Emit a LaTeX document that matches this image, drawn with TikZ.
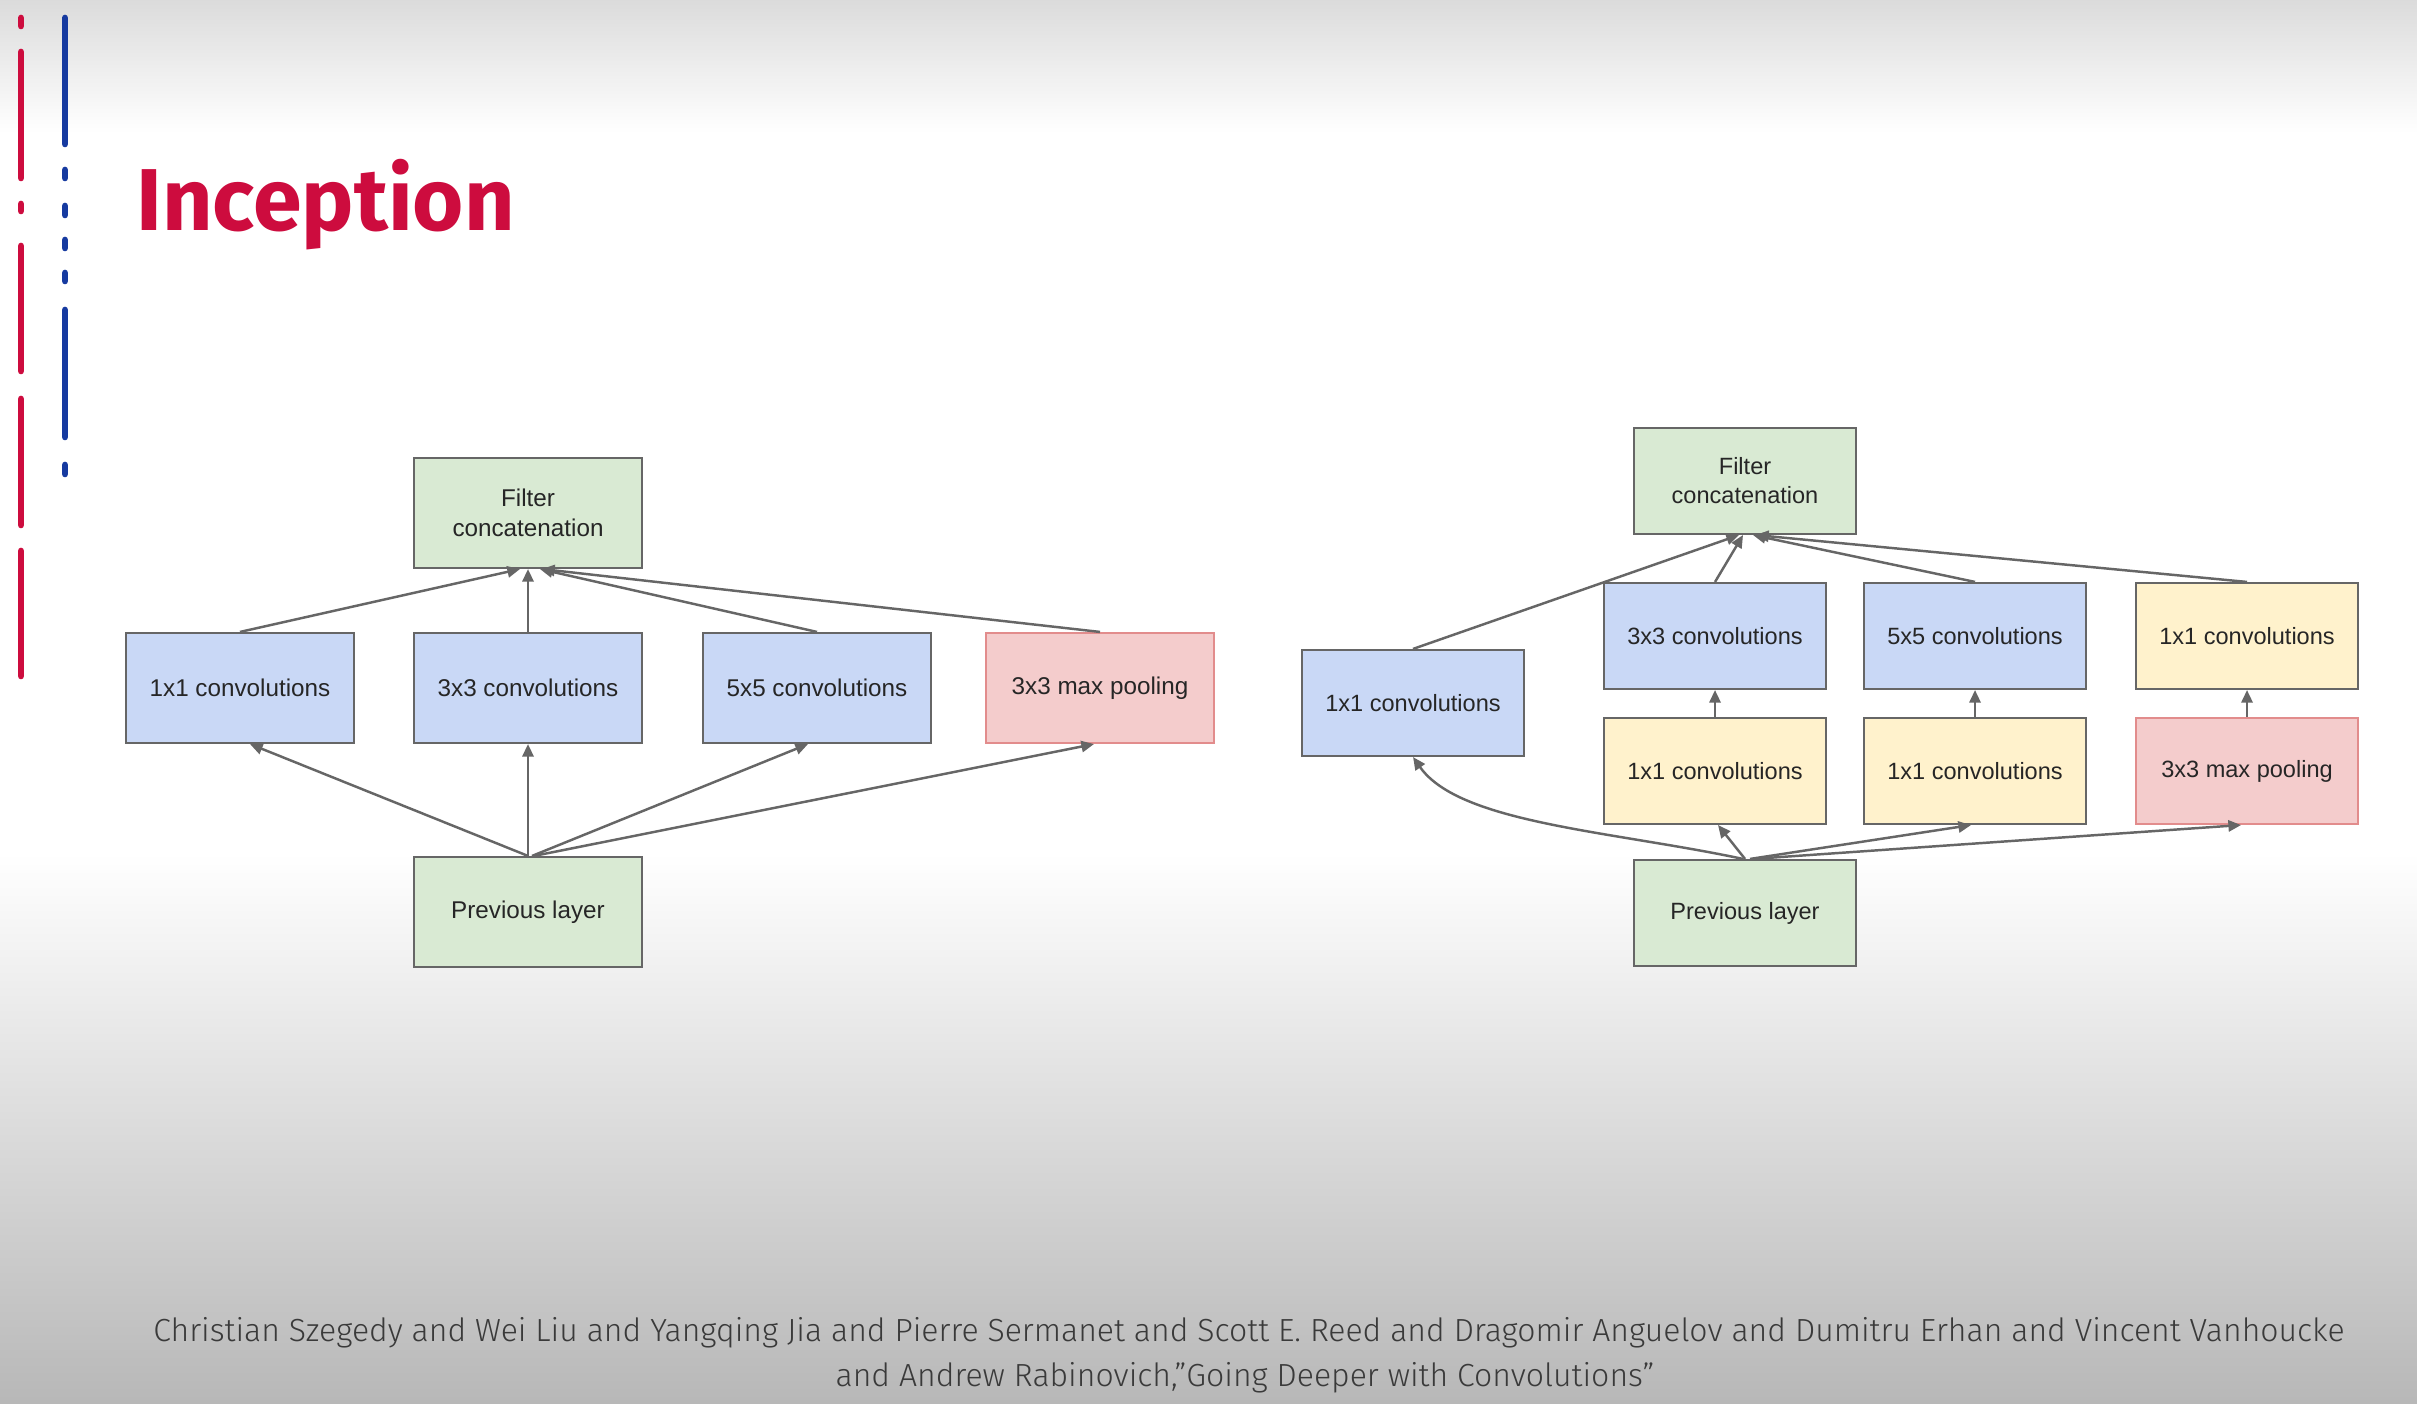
\documentclass[tikz,border=0pt]{standalone}
\usepackage{fontspec}
\setmainfont{Liberation Sans}
\newfontfamily\titlefont{Fira Sans}
\newfontfamily\citefont{Fira Sans Light}
\usepackage{tikz}
\usetikzlibrary{arrows.meta,calc}
\definecolor{slideRed}{RGB}{205,12,62}
\definecolor{slideBlue}{RGB}{22,58,160}
\definecolor{convcolor}{RGB}{201,216,246}
\definecolor{concatcolor}{RGB}{217,234,211}
\definecolor{reducecolor}{RGB}{255,242,204}
\definecolor{poolcolor}{RGB}{244,204,204}
\definecolor{poolborder}{RGB}{226,140,140}
\definecolor{edgecolor}{RGB}{102,102,102}
\definecolor{citecolor}{RGB}{58,58,58}

\begin{document}
\begin{tikzpicture}[scale=1.0,
    blk/.style={draw=edgecolor, line width=0.6pt, minimum width=2.28cm, minimum height=1.10cm,
      inner sep=0pt, align=center, text=black!85, font=\fontsize{6.9}{8.4}\selectfont},
    convbox/.style={blk, fill=convcolor},
    concatbox/.style={blk, fill=concatcolor},
    reducebox/.style={blk, fill=reducecolor},
    poolbox/.style={blk, fill=poolcolor, draw=poolborder},
    flow/.style={draw=edgecolor, line width=0.7pt, -{Triangle[length=3.6pt,width=3.2pt]}}]
    \useasboundingbox (0,0) rectangle (24.17,14.03);
    % Slide background, grey at top and bottom
    \fill[white] (0,0) rectangle (24.17,14.03);
    \shade[top color=black!14, bottom color=white] (0,12.7) rectangle (24.17,14.03);
    \shade[top color=white, bottom color=black!28] (0,0) rectangle (24.17,5.5);
    % Dashed bars on the left edge
    \foreach \ya/\yb in {13.85/13.77, 13.51/12.25, 11.99/11.92, 11.57/10.32, 10.04/8.78, 8.52/7.27} {
      \draw[slideRed, line width=1.9pt, line cap=round] (0.21,\ya) -- (0.21,\yb);
    }
    \foreach \ya/\yb in {13.85/12.59, 12.33/12.25, 11.97/11.88, 11.63/11.55, 11.30/11.22, 10.93/9.66, 9.38/9.29} {
      \draw[slideBlue, line width=1.9pt, line cap=round] (0.65,\ya) -- (0.65,\yb);
    }
    % Title
    \node[anchor=base west, text=slideRed, font=\titlefont\bfseries\fontsize{25}{30}\selectfont] (title) at (1.24, 11.72) {Inception};
    % Naive module (left)
    \node[concatbox] (catL) at (5.28, 8.90) {Filter\\concatenation};
    \node[convbox] (c1L) at (2.40, 7.15) {1x1 convolutions};
    \node[convbox] (c3L) at (5.28, 7.15) {3x3 convolutions};
    \node[convbox] (c5L) at (8.17, 7.15) {5x5 convolutions};
    \node[poolbox] (mpL) at (11.00, 7.15) {3x3 max pooling};
    \node[concatbox] (prevL) at (5.28, 4.91) {Previous layer};
    \foreach \dst/\sx/\dx in {c1L/0/0.10, c3L/0/0, c5L/0.04/-0.09, mpL/0.06/-0.06} {
      \draw[flow] ([xshift=\sx cm]prevL.north) -- ([xshift=\dx cm]\dst.south);
    }
    \foreach \src/\dx in {c1L/-0.08, c3L/0, c5L/0.12, mpL/0.14} {
      \draw[flow] (\src.north) -- ([xshift=\dx cm]catL.south);
    }
    % Module with dimension reductions (right)
    \begin{scope}[blk/.append style={minimum width=2.22cm, minimum height=1.06cm, font=\fontsize{6.7}{8.2}\selectfont}]
      \node[concatbox] (catR) at (17.45, 9.22) {Filter\\concatenation};
      \node[convbox] (c1R) at (14.13, 7.00) {1x1 convolutions};
      \node[convbox] (c3R) at (17.15, 7.67) {3x3 convolutions};
      \node[convbox] (c5R) at (19.75, 7.67) {5x5 convolutions};
      \node[reducebox] (projR) at (22.47, 7.67) {1x1 convolutions};
      \node[reducebox] (r3R) at (17.15, 6.32) {1x1 convolutions};
      \node[reducebox] (r5R) at (19.75, 6.32) {1x1 convolutions};
      \node[poolbox] (mpR) at (22.47, 6.32) {3x3 max pooling};
      \node[concatbox] (prevR) at (17.45, 4.90) {Previous layer};
    \end{scope}
    \foreach \src/\dx in {c1R/-0.06, c3R/-0.02, c5R/0.08, projR/0.11} {
      \draw[flow] (\src.north) -- ([xshift=\dx cm]catR.south);
    }
    \foreach \lo/\hi in {r3R/c3R, r5R/c5R, mpR/projR} {
      \draw[flow] (\lo.north) -- (\hi.south);
    }
    \foreach \dst/\sx/\dx in {r3R/0/0.03, r5R/0.05/-0.04, mpR/0.08/-0.06} {
      \draw[flow] ([xshift=\sx cm]prevR.north) -- ([xshift=\dx cm]\dst.south);
    }
    \draw[flow] ([xshift=-0.02cm]prevR.north) to[out=168, in=-55, in looseness=0.6] (c1R.south);
    % Reference
    \node[anchor=base, text=citecolor, font=\citefont\fontsize{9.1}{11}\selectfont] (citeA) at (12.49, 0.62)
      {Christian Szegedy and Wei Liu and Yangqing Jia and Pierre Sermanet and Scott E. Reed and Dragomir Anguelov and Dumitru Erhan and Vincent Vanhoucke};
    \node[anchor=base, text=citecolor, font=\citefont\fontsize{9.1}{11}\selectfont] (citeB) at (12.45, 0.17)
      {and Andrew Rabinovich,”Going Deeper with Convolutions”};
  \end{tikzpicture}
\end{document}
